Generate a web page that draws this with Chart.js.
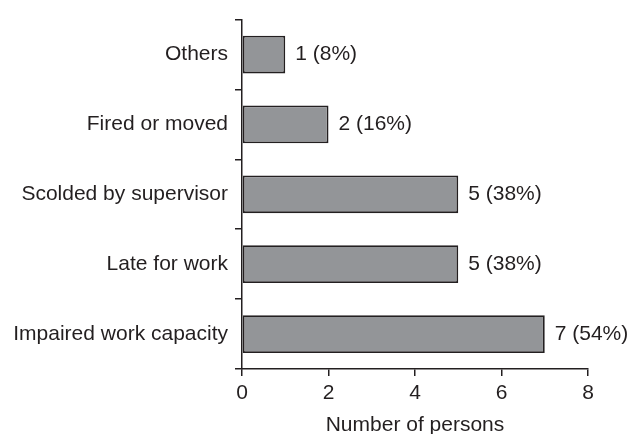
<!DOCTYPE html>
<html>
<head>
<meta charset="utf-8">
<script src="https://cdn.jsdelivr.net/npm/chart.js@4/dist/chart.umd.min.js"></script>
<style>
  html, body { margin: 0; padding: 0; background: #fff; }
  #wrap { width: 632px; height: 434px; }
</style>
</head>
<body>
<div id="wrap"><canvas id="barChart" width="632" height="434"></canvas></div>
<script>
const categories = ['Others', 'Fired or moved', 'Scolded by supervisor', 'Late for work', 'Impaired work capacity'];
const persons = [1, 2, 5, 5, 7];
const percents = ['8%', '16%', '38%', '38%', '54%'];
const xTicks = [0, 2, 4, 6, 8];

const ink = '#231f20';
const fontFamily = '"Liberation Sans", Arial, sans-serif';

// writes "n (p%)" just right of each bar
const valueLabels = {
    id: 'valueLabels',
    afterDatasetsDraw(chart) {
        const ctx = chart.ctx;
        const meta = chart.getDatasetMeta(0);
        ctx.save();
        ctx.font = '21px ' + fontFamily;
        ctx.fillStyle = ink;
        ctx.textBaseline = 'middle';
        ctx.textAlign = 'left';
        meta.data.forEach(function (bar, i) {
            ctx.fillText(persons[i] + ' (' + percents[i] + ')', bar.x + 10, bar.y);
        });
        ctx.restore();
    }
};

new Chart(document.getElementById('barChart'), {
    type: 'bar',
    data: {
        labels: categories,
        datasets: [{
            data: persons,
            backgroundColor: '#939598',
            borderColor: ink,
            borderWidth: 1.8,
            borderSkipped: false,
            categoryPercentage: 0.54,
            barPercentage: 1
        }]
    },
    options: {
        indexAxis: 'y',
        responsive: false,
        animation: false,
        layout: { padding: { top: 17, right: 44, left: 0, bottom: 0 } },
        plugins: { legend: { display: false }, tooltip: { enabled: false } },
        scales: {
            x: {
                min: 0,
                max: 8,
                afterBuildTicks: function (scale) {
                    scale.ticks = xTicks.map(function (v) { return { value: v }; });
                },
                afterFit: function (scale) { scale.height = 65; },
                grid: { drawOnChartArea: false, tickLength: 7, color: ink, lineWidth: 1.5 },
                border: { color: ink, width: 1.5 },
                ticks: {
                    color: ink,
                    padding: 5,
                    font: { family: fontFamily, size: 21 }
                },
                title: {
                    display: true,
                    text: 'Number of persons',
                    color: ink,
                    padding: { top: 4, bottom: -4 },
                    font: { family: fontFamily, size: 21 }
                }
            },
            y: {
                afterFit: function (scale) { scale.width = 242; },
                grid: { drawOnChartArea: false, offset: true, tickLength: 7, color: ink, lineWidth: 1.5 },
                border: { color: ink, width: 1.5 },
                ticks: {
                    color: ink,
                    padding: 7,
                    font: { family: fontFamily, size: 21 }
                }
            }
        }
    },
    plugins: [valueLabels]
});
</script>
</body>
</html>
